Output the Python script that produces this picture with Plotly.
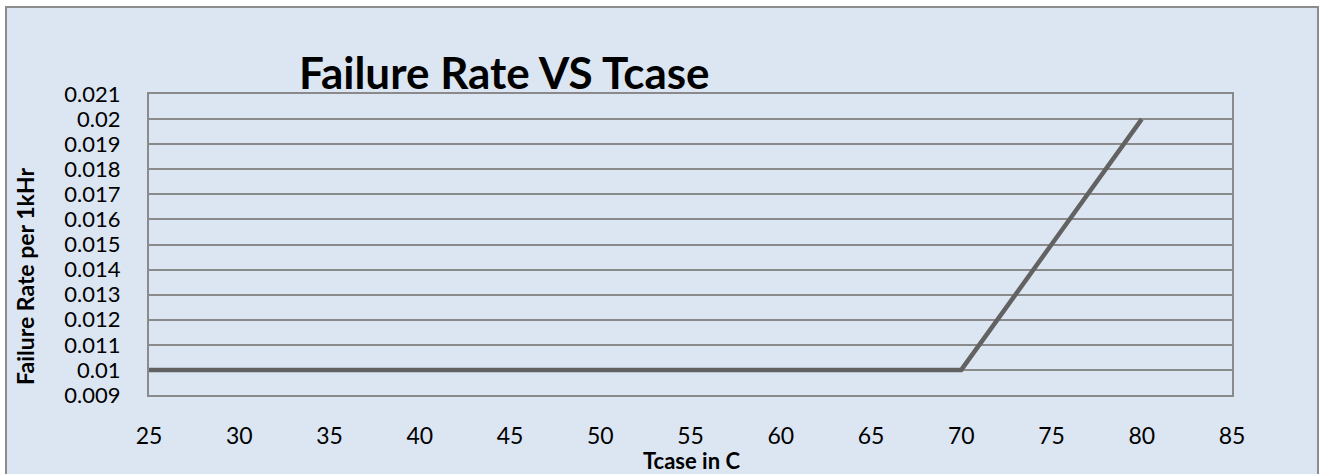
import plotly.graph_objects as go

# data
tcase = [25, 30, 35, 40, 45, 50, 55, 60, 65, 70, 75, 80]
failure_rate = [0.01, 0.01, 0.01, 0.01, 0.01, 0.01, 0.01, 0.01, 0.01, 0.01, 0.015, 0.02]
x_ticks = [25, 30, 35, 40, 45, 50, 55, 60, 65, 70, 75, 80, 85]
y_ticks = [0.009, 0.01, 0.011, 0.012, 0.013, 0.014, 0.015, 0.016, 0.017, 0.018, 0.019, 0.02, 0.021]
y_tick_text = ["0.009", "0.01", "0.011", "0.012", "0.013", "0.014", "0.015",
               "0.016", "0.017", "0.018", "0.019", "0.02", "0.021"]

W, H = 1320, 474
L, R, T, B = 149, 88, 94, 79
BG = "#dce6f2"
GRID = "#8a8a8a"
FONT = "Lato"


def px_x(px):
    return (px - L) / (W - L - R)


def px_y(py):
    return (H - B - py) / (H - T - B)


fig = go.Figure()
fig.add_trace(
    go.Scatter(
        x=tcase,
        y=failure_rate,
        mode="lines",
        line=dict(color="#626262", width=4.5),
        showlegend=False,
    )
)

fig.update_layout(
    width=W,
    height=H,
    margin=dict(l=L, r=R, t=T, b=B),
    paper_bgcolor="white",
    plot_bgcolor="white",
    font=dict(family=FONT, color="#000000"),
    showlegend=False,
    xaxis=dict(
        range=[25, 85],
        tickvals=x_ticks,
        showgrid=False,
        zeroline=False,
        showline=True,
        linecolor=GRID,
        linewidth=2,
        mirror=True,
        ticks="",
        ticklabelstandoff=19,
        tickfont=dict(size=23, family=FONT, color="#000000"),
    ),
    yaxis=dict(
        range=[0.009, 0.021],
        tickvals=y_ticks,
        ticktext=y_tick_text,
        showgrid=True,
        gridcolor=GRID,
        gridwidth=1.5,
        zeroline=False,
        showline=True,
        linecolor=GRID,
        linewidth=2,
        mirror=True,
        ticks="",
        ticklabelstandoff=22,
        tickfont=dict(size=22, family=FONT, color="#000000"),
    ),
    # chart area box with the light blue fill, white outside it
    shapes=[
        dict(
            type="rect", xref="paper", yref="paper",
            x0=px_x(6), x1=px_x(1318), y0=px_y(490), y1=px_y(7),
            line=dict(color="#8c8c8c", width=2),
            fillcolor=BG, layer="below",
        )
    ],
    annotations=[
        dict(
            text="<b>Failure Rate VS Tcase</b>",
            xref="paper", yref="paper",
            x=px_x(504), y=px_y(72),
            showarrow=False, xanchor="center", yanchor="middle",
            font=dict(size=44, family=FONT, color="#000000"),
        ),
        dict(
            text="<b>Tcase in C</b>",
            xref="paper", yref="paper",
            x=px_x(691), y=px_y(461),
            showarrow=False, xanchor="center", yanchor="middle",
            font=dict(size=22, family=FONT, color="#000000"),
        ),
        dict(
            text="<b>Failure Rate per 1kHr</b>",
            xref="paper", yref="paper",
            x=px_x(25), y=px_y(277),
            showarrow=False, xanchor="center", yanchor="middle",
            textangle=-90,
            font=dict(size=23, family=FONT, color="#000000"),
        ),
    ],
)

fig.write_html(
    "out.html",
    config={"displayModeBar": False},
    post_script="document.body.style.margin='0';",
)
